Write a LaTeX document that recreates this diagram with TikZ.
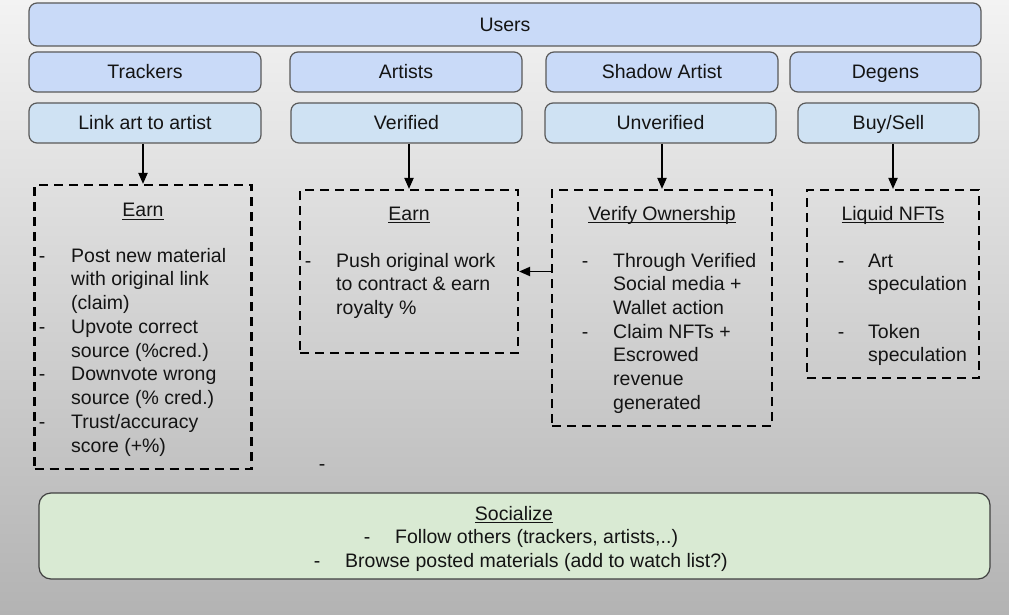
\documentclass[tikz,border=0pt]{standalone}
\usepackage{fontspec}
\setmainfont{Liberation Sans}
\usetikzlibrary{arrows.meta}
\definecolor{bgtop}{HTML}{F3F3F3}
\definecolor{bgbot}{HTML}{B3B3B3}
\definecolor{rowa}{HTML}{C9DAF8}
\definecolor{rowb}{HTML}{CFE2F3}
\definecolor{socfill}{HTML}{D9EAD3}
\definecolor{edgec}{HTML}{595959}
\definecolor{ink}{HTML}{141414}
\newcommand\sz{\fontsize{19.5pt}{23.7pt}\selectfont}
\newcommand\myul[1]{\setbox0\hbox{#1}\rlap{\rule[-3.2pt]{\wd0}{1.4pt}}\box0}
\begin{document}
\begin{tikzpicture}[x=1pt,y=-1pt,
  tbox/.style={draw=edgec, line width=1.2pt, rounded corners=8pt, inner sep=0pt,
    font=\sz, text height=14pt, text depth=0pt, text=ink},
  rowA/.style={tbox, fill=rowa},
  rowB/.style={tbox, fill=rowb},
  dbox/.style={draw=black, line width=2.1pt, dash pattern=on 9pt off 6pt, inner sep=0pt},
  arr/.style={line width=1.9pt, -{Triangle[length=11pt,width=9pt]}},
  head/.style={anchor=base, inner sep=0pt, font=\sz, text=ink},
  listtext/.style={anchor=north west, inner sep=0pt, align=left, font=\sz, text=ink},
  dashmark/.style={anchor=base, inner sep=0pt, font=\sz, text=ink}
]
\useasboundingbox (0,0) rectangle (1009,615);
\shade[top color=bgtop, bottom color=bgbot] (0,0) rectangle (1009,615);

% top rows
\node[rowA, minimum width=952pt, minimum height=43pt] (users) at (505,24.5) {Users};
\node[rowA, minimum width=232pt, minimum height=40pt] (trackers) at (145,72) {Trackers};
\node[rowA, minimum width=232pt, minimum height=40pt] (artists) at (406,72) {Artists};
\node[rowA, minimum width=232pt, minimum height=40pt] (shadow) at (662,72) {Shadow Artist};
\node[rowA, minimum width=191pt, minimum height=40pt] (degens) at (885.5,72) {Degens};

\node[rowB, minimum width=232pt, minimum height=40pt] (link) at (145,123) {Link art to artist};
\node[rowB, minimum width=231pt, minimum height=40pt] (verified) at (406.5,123) {Verified};
\node[rowB, minimum width=231pt, minimum height=40pt] (unverified) at (660.5,123) {Unverified};
\node[rowB, minimum width=181pt, minimum height=40pt] (buysell) at (888.5,123) {Buy/Sell};

% dashed boxes
\node[dbox, minimum width=217pt, minimum height=284pt] (b1) at (143,327) {};
\node[dbox, minimum width=218pt, minimum height=163pt] (b2) at (409,271.5) {};
\node[dbox, minimum width=220pt, minimum height=236pt] (b3) at (662,308) {};
\node[dbox, minimum width=172pt, minimum height=188pt] (b4) at (893,284) {};

% arrows
\draw[arr] (b1.north |- link.south) -- (b1.north);
\draw[arr] (b2.north |- verified.south) -- (b2.north);
\draw[arr] (b3.north |- unverified.south) -- (b3.north);
\draw[arr] (b4.north |- buysell.south) -- (b4.north);
\draw[arr] (b2.east -| b3.west) -- (b2.east);

% box 1
\node[head] (h1) at (143,216.7) {\myul{Earn}};
\node[dashmark] (d11) at (42,262) {-};
\node[listtext] (t11) at (71,245.4) {\strut Post new material\\\strut with original link\\\strut (claim)};
\node[dashmark] (d12) at (42,333.2) {-};
\node[listtext] (t12) at (71,316.6) {\strut Upvote correct\\\strut source (\%cred.)};
\node[dashmark] (d13) at (42,380.7) {-};
\node[listtext] (t13) at (71,364.1) {\strut Downvote wrong\\\strut source (\% cred.)};
\node[dashmark] (d14) at (42,428.2) {-};
\node[listtext] (t14) at (71,411.6) {\strut Trust/accuracy\\\strut score (+\%)};

% box 2
\node[head] (h2) at (409,220) {\myul{Earn}};
\node[dashmark] (d21) at (308,267) {-};
\node[listtext] (t21) at (336,250.4) {\strut Push original work\\\strut to contract \& earn\\\strut royalty \%};

% box 3
\node[head] (h3) at (662,220) {\myul{Verify Ownership}};
\node[dashmark] (d31) at (585,267) {-};
\node[listtext] (t31) at (613,250.4) {\strut Through Verified\\\strut Social media +\\\strut Wallet action};
\node[dashmark] (d32) at (585,338) {-};
\node[listtext] (t32) at (613,321.4) {\strut Claim NFTs +\\\strut Escrowed\\\strut revenue\\\strut generated};

% box 4
\node[head] (h4) at (893,220) {\myul{Liquid NFTs}};
\node[dashmark] (d41) at (841,267) {-};
\node[listtext] (t41) at (868,250.4) {\strut Art\\\strut speculation};
\node[dashmark] (d42) at (841,338) {-};
\node[listtext] (t42) at (868,321.4) {\strut Token\\\strut speculation};

% stray dash
\node[dashmark] (stray) at (322,470) {-};

% socialize
\node[draw=black!75, line width=1.2pt, rounded corners=12pt, fill=socfill, inner sep=0pt,
  minimum width=951pt, minimum height=86pt] (social) at (514.5,536) {};
\node[head] (hs) at (514,520) {\myul{Socialize}};
\node[dashmark] (ds1) at (367,543.5) {-};
\node[anchor=base west, inner sep=0pt, font=\sz, text=ink] (ts1) at (395,543.5) {Follow others (trackers, artists,..)};
\node[dashmark] (ds2) at (317,567) {-};
\node[anchor=base west, inner sep=0pt, font=\sz, text=ink] (ts2) at (345,567) {Browse posted materials (add to watch list?)};
\end{tikzpicture}
\end{document}
